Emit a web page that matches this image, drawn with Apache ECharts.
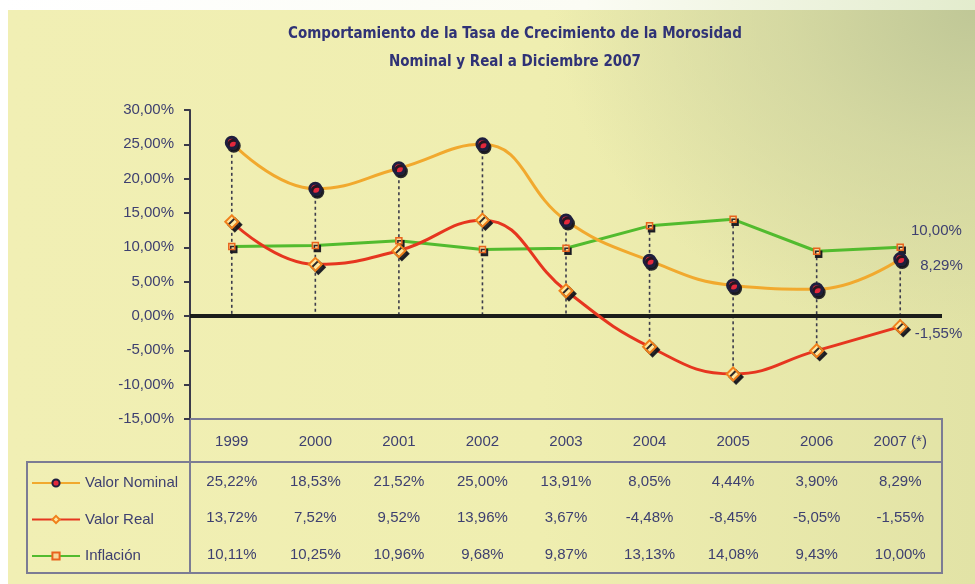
<!DOCTYPE html>
<html>
<head>
<meta charset="utf-8">
<script src="https://cdn.jsdelivr.net/npm/echarts@6/dist/echarts.min.js"></script>
<style>
    html, body { margin: 0; padding: 0; background: #fff; }
    #fondo {
        position: absolute; left: 8px; top: 10px; width: 967px; height: 574px;
        background:
            radial-gradient(ellipse 420px 330px at 100% 0%, rgba(190,198,150,0.95) 0%, rgba(205,210,158,0.7) 45%, rgba(230,230,170,0) 100%),
            linear-gradient(90deg, #f1efb4 0%, #efeeb0 55%, #e2e3a6 100%);
    }
    #franja {
        position: absolute; left: 0; top: 0; width: 975px; height: 10px;
        background: linear-gradient(90deg, #ffffff 0%, #fbfcf4 60%, #e3eccd 100%);
    }
    #chart { position: absolute; left: 0; top: 0; width: 975px; height: 584px; }
</style>
</head>
<body>
<div id="fondo"></div>
<div id="franja"></div>
<div id="chart"></div>
<script>
    // datos del cuadro
    var anios = ['1999', '2000', '2001', '2002', '2003', '2004', '2005', '2006', '2007 (*)'];
    var valorNominal = [25.22, 18.53, 21.52, 25.00, 13.91, 8.05, 4.44, 3.90, 8.29];
    var valorReal = [13.72, 7.52, 9.52, 13.96, 3.67, -4.48, -8.45, -5.05, -1.55];
    var inflacion = [10.11, 10.25, 10.96, 9.68, 9.87, 13.13, 14.08, 9.43, 10.00];

    var texto = '#3e4070';
    var fmt = function (v) { return v.toFixed(2).replace('.', ',') + '%'; };

    // lineas verticales punteadas (del punto mas alto al mas bajo / eje)
    var caidas = anios.map(function (a, i) {
        return [i,
            Math.max(valorNominal[i], valorReal[i], inflacion[i], 0),
            Math.min(valorNominal[i], valorReal[i], inflacion[i], 0)];
    });

    // etiqueta solo en el ultimo punto
    function conEtiqueta(arr, offset) {
        return arr.map(function (v, i) {
            if (i < arr.length - 1) return v;
            return {
                value: v,
                label: {
                    show: true, position: 'right', offset: offset,
                    formatter: fmt(v), color: texto, fontSize: 15,
                    fontFamily: 'Liberation Sans'
                }
            };
        });
    }

    var filaEje = function (datos, margen) {
        return {
            type: 'category',
            data: datos.map(fmt),
            position: 'bottom',
            axisLine: { show: false },
            axisTick: { show: false },
            axisLabel: { margin: margen, color: texto, fontSize: 15, fontFamily: 'Liberation Sans' }
        };
    };

    var myChart = echarts.init(document.getElementById('chart'));

    var option = {
        animation: false,
        title: {
            text: 'Comportamiento de la Tasa de Crecimiento de la Morosidad\nNominal y Real a Diciembre 2007',
            left: 510,
            top: 15,
            textAlign: 'center',
            textStyle: {
                color: '#2f3276',
                fontFamily: '"DejaVu Sans Condensed", "DejaVu Sans", sans-serif',
                fontWeight: 'bold',
                fontSize: 15,
                lineHeight: 28
            }
        },
        legend: {
            data: ['Valor Nominal', 'Valor Real', 'Inflación'],
            orient: 'vertical',
            left: 26,
            top: 470,
            itemWidth: 48,
            itemHeight: 9,
            itemGap: 20.5,
            textStyle: { color: texto, fontSize: 15, lineHeight: 16, fontFamily: 'Liberation Sans' }
        },
        grid: { left: 190, right: 33, top: 110, bottom: 165 },
        xAxis: [
            {
                type: 'category',
                data: anios,
                position: 'bottom',
                axisLine: { onZero: false, lineStyle: { color: '#7c7c94', width: 2 } },
                axisTick: { show: false },
                axisLabel: { margin: 15, color: texto, fontSize: 15, fontFamily: 'Liberation Sans' }
            },
            filaEje(valorNominal, 55),
            filaEje(valorReal, 91),
            filaEje(inflacion, 128)
        ],
        yAxis: {
            type: 'value',
            min: -15,
            max: 30,
            interval: 5,
            splitLine: { show: false },
            axisLine: { show: true, lineStyle: { color: '#3a3a4a', width: 2 } },
            axisTick: { show: true, length: 6, lineStyle: { color: '#3a3a4a', width: 2 } },
            axisLabel: { formatter: fmt, margin: 16, color: texto, fontSize: 15, fontFamily: 'Liberation Sans' }
        },
        graphic: [
            // bordes del cuadro de datos
            { type: 'rect', z: -1, shape: { x: 190, y: 419, width: 752, height: 43 },
              style: { fill: 'none', stroke: '#7c7c94', lineWidth: 2 } },
            { type: 'rect', z: -1, shape: { x: 27, y: 462, width: 915, height: 111 },
              style: { fill: 'none', stroke: '#7c7c94', lineWidth: 2 } },
            { type: 'line', z: -1, shape: { x1: 190, y1: 462, x2: 190, y2: 573 },
              style: { stroke: '#7c7c94', lineWidth: 2 } }
        ],
        series: [
            {
                name: 'caidas',
                type: 'custom',
                z: 1,
                data: caidas,
                encode: { x: 0, y: [1, 2] },
                renderItem: function (params, api) {
                    var a = api.coord([api.value(0), api.value(1)]);
                    var b = api.coord([api.value(0), api.value(2)]);
                    return {
                        type: 'line',
                        shape: { x1: a[0], y1: a[1], x2: b[0], y2: b[1] },
                        style: { stroke: '#3c3c4c', lineWidth: 1.6, lineDash: [3, 3] }
                    };
                },
                markLine: {
                    silent: true,
                    symbol: 'none',
                    label: { show: false },
                    lineStyle: { color: '#1b1d1a', width: 4, type: 'solid' },
                    data: [{ yAxis: 0 }]
                }
            },
            {
                name: 'Inflación',
                type: 'line',
                z: 3,
                data: conEtiqueta(inflacion, [2, -16]),
                symbol: 'rect',
                symbolSize: 6,
                lineStyle: { color: '#52bb2e', width: 3 },
                itemStyle: {
                    color: '#f7d89a', borderColor: '#e8641e', borderWidth: 1.5,
                    shadowColor: 'rgba(20,20,30,0.9)', shadowOffsetX: 2, shadowOffsetY: 3, shadowBlur: 0
                }
            },
            {
                name: 'Valor Nominal',
                type: 'line',
                z: 4,
                smooth: 0.45,
                data: conEtiqueta(valorNominal, [8, 7]),
                symbol: 'circle',
                symbolSize: 11,
                lineStyle: { color: '#f1a92e', width: 3 },
                itemStyle: {
                    color: '#e4283c', borderColor: '#1e1e3e', borderWidth: 3,
                    shadowColor: 'rgba(20,20,30,0.9)', shadowOffsetX: 2, shadowOffsetY: 3, shadowBlur: 0
                }
            },
            {
                name: 'Valor Real',
                type: 'line',
                z: 5,
                smooth: 0.45,
                data: conEtiqueta(valorReal, [2, 7]),
                symbol: 'diamond',
                symbolSize: 13,
                lineStyle: { color: '#e6361f', width: 3 },
                itemStyle: {
                    color: '#ffe8a0', borderColor: '#f0801c', borderWidth: 2,
                    shadowColor: 'rgba(20,20,30,0.9)', shadowOffsetX: 3, shadowOffsetY: 3, shadowBlur: 0
                }
            }
        ]
    };

    myChart.setOption(option);
</script>
</body>
</html>
